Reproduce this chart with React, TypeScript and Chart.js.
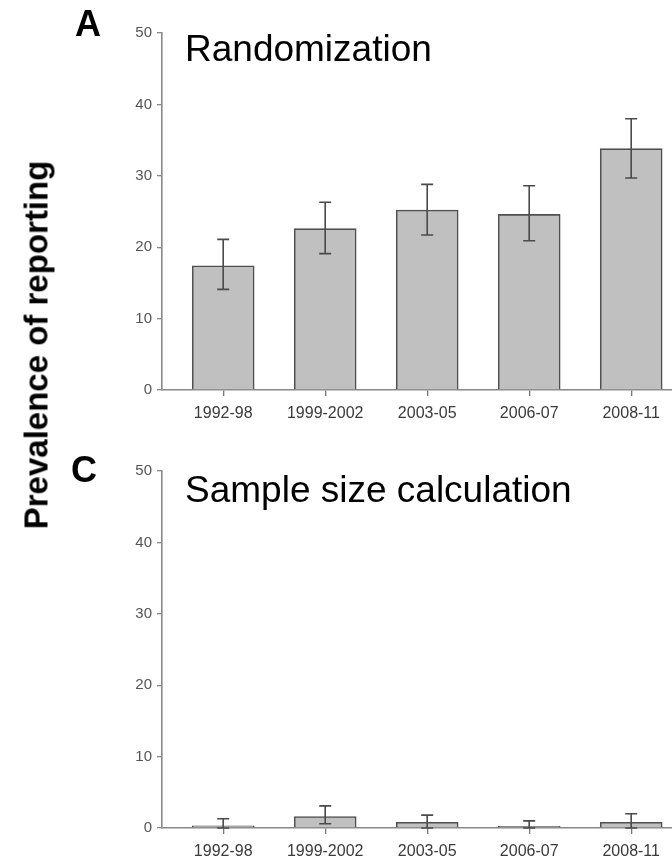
import React, { useEffect, useRef } from "react";
import { Chart, registerables } from "chart.js";

Chart.register(...registerables);

const periods = ["1992-98", "1999-2002", "2003-05", "2006-07", "2008-11"];
const yTicks = [0, 10, 20, 30, 40, 50];

const randomization = [17.4, 22.6, 25.2, 24.6, 33.8];
const randomizationLow = [14.1, 19.1, 21.7, 20.9, 29.7];
const randomizationHigh = [21.1, 26.3, 28.8, 28.6, 38.0];

const sampleSize = [0.3, 1.6, 0.8, 0.25, 0.8];
const sampleSizeLow = [0, 0.6, 0, 0, 0];
const sampleSizeHigh = [1.3, 3.1, 1.8, 1.0, 2.0];

const FONT = "'Liberation Sans', Arial, Helvetica, sans-serif";

type PanelProps = {
  values: number[];
  low: number[];
  high: number[];
  top: number;
  areaTop: number;
  areaBottom: number;
  height: number;
};

function Panel({ values, low, high, top, areaTop, areaBottom, height }: PanelProps) {
  const ref = useRef<HTMLCanvasElement | null>(null);
  useEffect(() => {
    if (!ref.current) return;
    const errorBars = {
      id: "errorBars",
      afterDatasetsDraw(chart: any) {
        const ctx = chart.ctx;
        const xs = chart.scales.x;
        const ys = chart.scales.y;
        ctx.save();
        ctx.strokeStyle = "#4a4a4a";
        ctx.lineWidth = 1.6;
        values.forEach((_, i) => {
          const x = xs.getPixelForValue(i);
          const yl = ys.getPixelForValue(low[i]);
          const yh = ys.getPixelForValue(high[i]);
          ctx.beginPath();
          ctx.moveTo(x, yl);
          ctx.lineTo(x, yh);
          ctx.moveTo(x - 6, yh);
          ctx.lineTo(x + 6, yh);
          ctx.moveTo(x - 6, yl);
          ctx.lineTo(x + 6, yl);
          ctx.stroke();
        });
        ctx.restore();
      },
    };
    const chart = new Chart(ref.current, {
      type: "bar",
      data: {
        datasets: [
          {
            data: values.map((v, i) => ({ x: i, y: v })),
            backgroundColor: "#c0c0c0",
            borderColor: "#505050",
            borderWidth: 1.6,
            barThickness: 62,
          },
        ],
      },
      options: {
        animation: false,
        responsive: false,
        events: [],
        layout: { padding: { top: areaTop, left: 0, right: 0, bottom: 0 } },
        plugins: { legend: { display: false }, tooltip: { enabled: false }, title: { display: false } },
        scales: {
          x: {
            type: "linear",
            offset: false,
            min: -0.6,
            max: 4.4,
            afterBuildTicks: (scale: any) => {
              scale.ticks = periods.map((_, i) => ({ value: i }));
            },
            afterFit: (scale: any) => {
              scale.height = height - areaBottom;
            },
            ticks: {
              autoSkip: false,
              maxRotation: 0,
              padding: 8,
              color: "#3a3a3a",
              font: { family: FONT, size: 16 },
              callback: (v: any) => periods[Math.round(Number(v))] ?? "",
            },
            grid: {
              display: true,
              offset: false,
              drawOnChartArea: false,
              drawTicks: true,
              tickLength: 6,
              color: "#777",
              lineWidth: 1.3,
            },
            border: { display: true, color: "#888", width: 1.6 },
          },
          y: {
            min: 0,
            max: 50,
            afterBuildTicks: (scale: any) => {
              scale.ticks = yTicks.map((v) => ({ value: v }));
            },
            afterFit: (scale: any) => {
              scale.width = 162;
            },
            ticks: {
              padding: 5,
              color: "#555",
              font: { family: FONT, size: 15 },
            },
            grid: { display: true, drawOnChartArea: false, drawTicks: true, tickLength: 5, color: "#888", lineWidth: 1.3 },
            border: { display: true, color: "#888", width: 1.6 },
          },
        },
      },
      plugins: [errorBars],
    });
    return () => chart.destroy();
  }, []);
  return (
    <canvas
      ref={ref}
      width={672}
      height={height}
      style={{ position: "absolute", left: 0, top, width: 672, height }}
    />
  );
}

const textBase: React.CSSProperties = {
  position: "absolute",
  fontFamily: FONT,
  lineHeight: "1",
  whiteSpace: "nowrap",
  color: "#000",
  margin: 0,
};

export default function App() {
  return (
    <div
      style={{
        position: "absolute",
        left: 0,
        top: 0,
        width: 672,
        height: 860,
        overflow: "hidden",
        background: "#fff",
      }}
    >
      <Panel
        values={randomization}
        low={randomizationLow}
        high={randomizationHigh}
        top={0}
        areaTop={33}
        areaBottom={390}
        height={430}
      />
      <Panel
        values={sampleSize}
        low={sampleSizeLow}
        high={sampleSizeHigh}
        top={430}
        areaTop={41}
        areaBottom={398}
        height={430}
      />
      <div style={{ ...textBase, left: 75, top: 6, fontSize: 36, fontWeight: 700 }}>A</div>
      <div style={{ ...textBase, left: 71, top: 452, fontSize: 36, fontWeight: 700 }}>C</div>
      <div style={{ ...textBase, left: 185, top: 30, fontSize: 37 }}>Randomization</div>
      <div style={{ ...textBase, left: 185, top: 471, fontSize: 37 }}>Sample size calculation</div>
      <div
        style={{
          ...textBase,
          left: 36,
          top: 345,
          fontSize: 33,
          fontWeight: 700,
          transform: "translate(-50%, -50%) rotate(-90deg)",
        }}
      >
        Prevalence of reporting
      </div>
    </div>
  );
}
